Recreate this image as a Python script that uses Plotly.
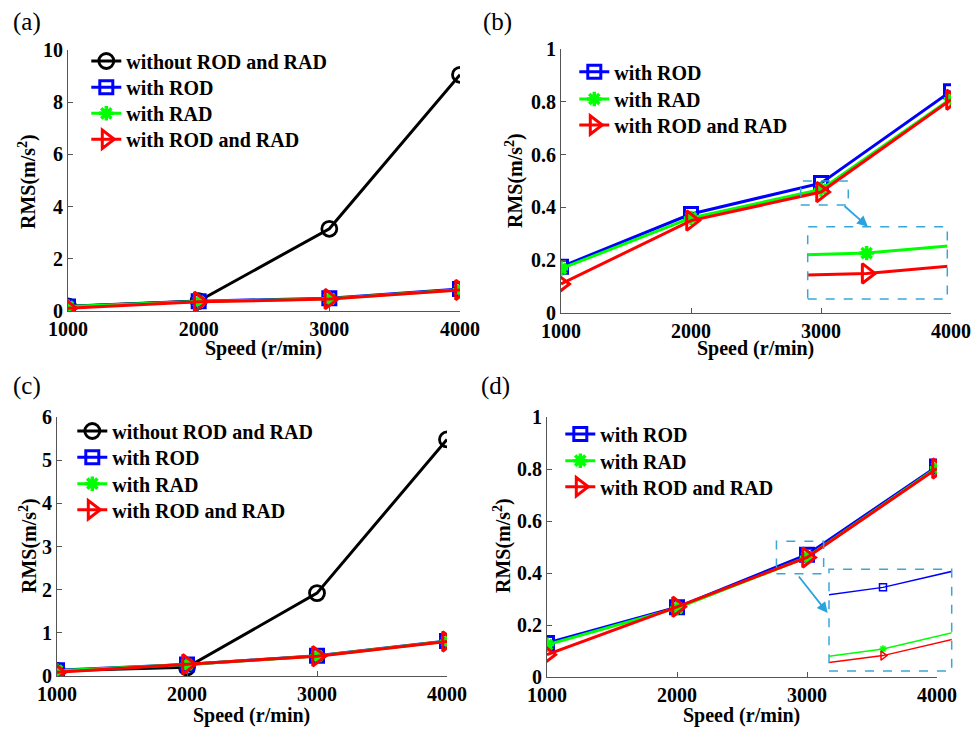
import plotly.graph_objects as go

W, H = 976, 729
speed = [1000, 2000, 3000, 4000]

# Panel (a) / (b)
a_without = [0.18, 0.38, 3.15, 9.05]
b_rod = [0.175, 0.375, 0.492, 0.840]
b_rad = [0.168, 0.360, 0.468, 0.812]
b_rodrad = [0.110, 0.350, 0.458, 0.808]
# Panel (c) / (d)
c_without = [0.12, 0.20, 1.92, 5.48]
d_rod = [0.131, 0.268, 0.4702, 0.810]
d_rad = [0.124, 0.265, 0.461, 0.805]
d_rodrad = [0.086, 0.270, 0.460, 0.802]

names = ["without ROD and RAD", "with ROD", "with RAD", "with ROD and RAD"]
FONT = "Liberation Serif"
BLUEBOX = "#3aa6d8"

def px_x(p):
    return p / W

def px_y(p):
    return 1 - p / H

# pixel geometry of the four main plot areas (left, right, top, bottom)
panels = {
    1: (68, 460, 50, 311, [0, 10], 2),
    2: (561, 951, 49, 313, [0, 1], 0.2),
    3: (57, 447, 417, 676, [0, 6], 1),
    4: (547, 937, 417, 677, [0, 1], 0.2),
}

fig = go.Figure()

styles = {
    "without": dict(color="black", symbol="circle-open", size=15, mlw=2.8),
    "rod": dict(color="#0000ff", symbol="square-open", size=13, mlw=3),
    "rad": dict(color="#00ff00", symbol="asterisk-open", size=12, mlw=3.5),
    "rodrad": dict(color="#ff0000", symbol="triangle-right-open", size=17, mlw=3),
}

TEXT_OFF = 40.7
legend_rows = {}  # legend id -> (text x start px, row centre y px)

def add_series(xa, ya, legend, y, key, name, showlegend=True, lw=3, msize=None, mlw=None):
    st = styles[key]
    fig.add_trace(go.Scatter(
        x=speed, y=y, mode="lines+markers", name=name,
        line=dict(color=st["color"], width=lw),
        marker=dict(symbol=st["symbol"], size=msize or st["size"], color=st["color"],
                    line=dict(color=st["color"], width=mlw or st["mlw"])),
        xaxis=xa, yaxis=ya, legend=legend, showlegend=showlegend))

leg_n = [0]
def new_leg(tx, ty):
    leg_n[0] += 1
    lid = "legend" if leg_n[0] == 1 else "legend%d" % leg_n[0]
    legend_rows[lid] = (tx, ty)
    return lid

# (a)
rows_a = [61, 87.3, 113.3, 139.3]
for yv, key, nm, ry in zip([a_without, b_rod, b_rad, b_rodrad], ["without", "rod", "rad", "rodrad"], names, rows_a):
    add_series("x", "y", new_leg(127, ry), yv, key, nm)
# (b)
rows_b = [71.7, 99, 125]
for yv, key, nm, ry in zip([b_rod, b_rad, b_rodrad], ["rod", "rad", "rodrad"], names[1:], rows_b):
    add_series("x2", "y2", new_leg(615, ry), yv, key, nm)
# (c)
rows_c = [431, 457.3, 483.7, 509.7]
for yv, key, nm, ry in zip([c_without, d_rod, d_rad, d_rodrad], ["without", "rod", "rad", "rodrad"], names, rows_c):
    add_series("x3", "y3", new_leg(113, ry), yv, key, nm)
# (d)
rows_d = [434, 460.7, 486.7]
for yv, key, nm, ry in zip([d_rod, d_rad, d_rodrad], ["rod", "rad", "rodrad"], names[1:], rows_d):
    add_series("x4", "y4", new_leg(601, ry), yv, key, nm)
# insets (zoomed views of the same data)
add_series("x5", "y5", "legend", b_rod, "rod", names[1], showlegend=False)
add_series("x5", "y5", "legend", b_rad, "rad", names[2], showlegend=False)
add_series("x5", "y5", "legend", b_rodrad, "rodrad", names[3], showlegend=False)
add_series("x6", "y6", "legend", d_rod, "rod", names[1], showlegend=False, lw=1.5, msize=7, mlw=1.5)
add_series("x6", "y6", "legend", d_rad, "rad", names[2], showlegend=False, lw=1.5, msize=6, mlw=1.5)
add_series("x6", "y6", "legend", d_rodrad, "rodrad", names[3], showlegend=False, lw=1.5, msize=8, mlw=1.5)

tickfont = dict(family=FONT, size=20, color="black", weight="bold")
axcommon = dict(showline=True, linecolor="#555555", linewidth=1, ticks="inside", ticklen=5,
                tickcolor="#555555", showgrid=False, zeroline=False, tickfont=tickfont,
                fixedrange=True)

layout = dict(width=W, height=H, margin=dict(l=0, r=0, t=0, b=0, autoexpand=False),
              paper_bgcolor="white", plot_bgcolor="white", showlegend=True)

for i, (l, r, t, b, yr, dt) in panels.items():
    sx = "" if i == 1 else str(i)
    layout["xaxis" + sx] = dict(axcommon, domain=[px_x(l), px_x(r)], range=[1000, 4000],
                               tickvals=speed, anchor="y" + sx)
    layout["yaxis" + sx] = dict(axcommon, domain=[px_y(b), px_y(t)], range=yr, dtick=dt,
                               tick0=0, anchor="x" + sx)

# inset axes
inset_b = (807.7, 947.3, 226.7, 299)
inset_d = (829, 951.7, 569.3, 671)
for i, (l, r, t, b), xr, yr in [(5, inset_b, [2992.7, 3010], [0.4454, 0.481]),
                                (6, inset_d, [2994.5, 3007], [0.4577, 0.4729])]:
    layout["xaxis%d" % i] = dict(domain=[px_x(l), px_x(r)], range=xr, visible=False,
                                 anchor="y%d" % i, fixedrange=True)
    layout["yaxis%d" % i] = dict(domain=[px_y(b), px_y(t)], range=yr, visible=False,
                                 anchor="x%d" % i, fixedrange=True)

legfont = dict(family=FONT, size=20, color="black", weight="bold")
for k, (tx, ty) in legend_rows.items():
    layout[k] = dict(x=px_x(tx - TEXT_OFF), y=px_y(ty), xanchor="left", yanchor="middle",
                     bgcolor="rgba(0,0,0,0)", font=legfont, itemwidth=30, tracegroupgap=0)

shapes = []
# small zoom boxes in data coords
shapes.append(dict(type="rect", xref="x2", yref="y2", x0=2844, x1=3210, y0=0.409, y1=0.5,
                   line=dict(color=BLUEBOX, width=1.5, dash="dash")))
shapes.append(dict(type="rect", xref="x4", yref="y4", x0=2765, x1=3128, y0=0.397, y1=0.522,
                   line=dict(color=BLUEBOX, width=1.5, dash="dash")))
# inset frames
for (l, r, t, b) in [inset_b, inset_d]:
    shapes.append(dict(type="rect", xref="paper", yref="paper", x0=px_x(l), x1=px_x(r),
                       y0=px_y(b), y1=px_y(t), line=dict(color=BLUEBOX, width=1.5, dash="dash")))
layout["shapes"] = shapes

ann = []
# arrows
ann.append(dict(xref="x2", yref="y2", x=3361, y=0.327, ax=-25, ay=-22, showarrow=True,
                arrowhead=2, arrowsize=1.2, arrowwidth=1.8, arrowcolor="#29a3e0", text=""))
ann.append(dict(xref="x4", yref="y4", x=3159, y=0.246, ax=-30, ay=-38, showarrow=True,
                arrowhead=2, arrowsize=1.2, arrowwidth=1.8, arrowcolor="#29a3e0", text=""))
# panel labels
for lab, (lx, ly) in {"(a)": (27, 22), "(b)": (497, 22), "(c)": (27, 386), "(d)": (495, 386)}.items():
    ann.append(dict(xref="paper", yref="paper", x=px_x(lx), y=px_y(ly), text=lab, showarrow=False,
                    xanchor="center", yanchor="middle",
                    font=dict(family=FONT, size=25, color="black")))
# axis titles
titlefont = dict(family=FONT, size=20, color="black", weight="bold")
for (tx, ty) in [(263, 348), (755, 348), (251, 715), (741, 715)]:
    ann.append(dict(xref="paper", yref="paper", x=px_x(tx), y=px_y(ty), text="Speed (r/min)",
                    xanchor="center", yanchor="middle", showarrow=False, font=titlefont))
for (tx, ty) in [(27, 182), (515, 181), (28, 546), (502, 546)]:
    ann.append(dict(xref="paper", yref="paper", x=px_x(tx), y=px_y(ty), text="RMS(m/s<sup>2</sup>)",
                    xanchor="center", yanchor="middle", showarrow=False, textangle=-90,
                    font=titlefont))
layout["annotations"] = ann

fig.update_layout(**layout)
fig.write_html("out.html")
